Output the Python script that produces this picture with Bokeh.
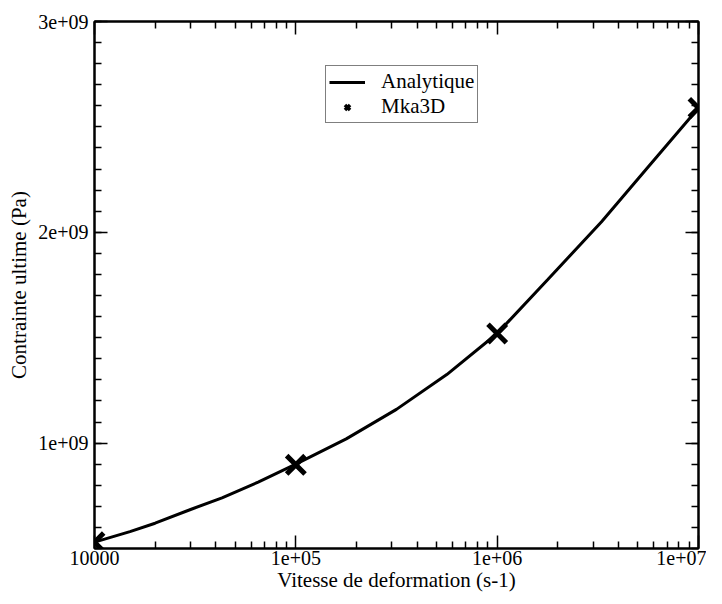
from bokeh.plotting import figure
from bokeh.models import LinearAxis, LogAxis, FixedTicker, Legend, LegendItem, Range1d
from bokeh.embed import file_html
from bokeh.resources import INLINE

# Analytical curve
curve_x = [1e4, 1.5e4, 2e4, 3e4, 4.3e4, 6.5e4, 1e5, 1.78e5, 3.16e5, 5.62e5, 1e6,
           1.78e6, 3.3e6, 5.62e6, 1e7]
curve_y = [5.3e8, 5.8e8, 6.2e8, 6.85e8, 7.4e8, 8.15e8, 9.0e8, 1.02e9, 1.16e9, 1.325e9, 1.52e9,
           1.775e9, 2.05e9, 2.31e9, 2.59e9]

# Mka3D simulation points
pts_x = [1e4, 1e5, 1e6, 1e7]
pts_y = [5.3e8, 8.97e8, 1.52e9, 2.59e9]

x_ticks = [1e4, 1e5, 1e6, 1e7]
x_tick_labels = ["10000", "1e+05", "1e+06", "1e+07"]
y_ticks = [1e9, 2e9, 3e9]
y_tick_labels = ["1e+09", "2e+09", "3e+09"]

FONT = "serif"

p = figure(width=706, height=596, x_axis_type="log",
           x_range=Range1d(1e4, 1e7), y_range=Range1d(5e8, 3e9),
           output_backend="svg", toolbar_location=None,
           min_border_left=94, min_border_top=21, min_border_right=8, min_border_bottom=48)

p.xgrid.visible = False
p.ygrid.visible = False
p.outline_line_color = "black"
p.outline_line_width = 2
p.background_fill_color = "white"
p.border_fill_color = "white"

minor_x = [m * 10 ** k for k in range(4, 7) for m in range(2, 10)]
minor_y = [v * 1e8 for v in range(5, 31)]


def style(ax, labels=True):
    ax.major_tick_in = 13
    ax.major_tick_out = 0
    ax.minor_tick_in = 7
    ax.minor_tick_out = 0
    ax.major_tick_line_width = 1.5
    ax.minor_tick_line_width = 1.5
    ax.axis_line_width = 2
    ax.major_label_text_font = FONT
    if labels:
        ax.major_label_text_font_size = "20px"
        ax.major_label_text_color = "black"
    else:
        ax.major_label_text_font_size = "1px"
        ax.major_label_text_alpha = 0
        ax.major_label_standoff = 0
    ax.axis_label_text_font = FONT
    ax.axis_label_text_font_size = "21px"
    ax.axis_label_text_font_style = "normal"
    ax.axis_label_text_color = "black"


xa = p.xaxis[0]
xa.ticker = FixedTicker(ticks=x_ticks, minor_ticks=minor_x)
xa.major_label_overrides = {v: s for v, s in zip(x_ticks, x_tick_labels)}
xa.axis_label = "Vitesse de deformation (s-1)"
style(xa)
xa.major_label_standoff = 2
xa.axis_label_standoff = 0

ya = p.yaxis[0]
ya.ticker = FixedTicker(ticks=y_ticks, minor_ticks=minor_y)
ya.major_label_overrides = {v: s for v, s in zip(y_ticks, y_tick_labels)}
ya.axis_label = "Contrainte ultime (Pa)"
style(ya)
ya.major_label_standoff = 6
ya.axis_label_standoff = 4
ya.major_label_orientation = "horizontal"

top = LogAxis(ticker=FixedTicker(ticks=x_ticks, minor_ticks=minor_x))
style(top, labels=False)
p.add_layout(top, "above")
right = LinearAxis(ticker=FixedTicker(ticks=y_ticks, minor_ticks=minor_y))
style(right, labels=False)
p.add_layout(right, "right")

r_line = p.line(curve_x, curve_y, line_color="black", line_width=3)
r_pts = p.scatter(pts_x, pts_y, marker="x", size=26, line_color="black", line_width=5)
# same points, only used to draw the legend glyph with a thinner stroke
r_leg = p.scatter(pts_x, pts_y, marker="x", size=26, line_color="black", line_width=3.5,
                  visible=False)

legend = Legend(items=[LegendItem(label="Analytique", renderers=[r_line]),
                       LegendItem(label="Mka3D", renderers=[r_leg])],
                location=(231, 425))
legend.label_text_font = FONT
legend.label_text_font_size = "21px"
legend.label_text_color = "black"
legend.border_line_color = "black"
legend.border_line_width = 1.5
legend.background_fill_alpha = 1
legend.glyph_width = 36
legend.glyph_height = 18
legend.label_height = 16
legend.spacing = 0
legend.padding = 3
legend.margin = 0
legend.label_standoff = 16
p.add_layout(legend, "center")

open("out.html", "w").write(file_html(p, INLINE))
